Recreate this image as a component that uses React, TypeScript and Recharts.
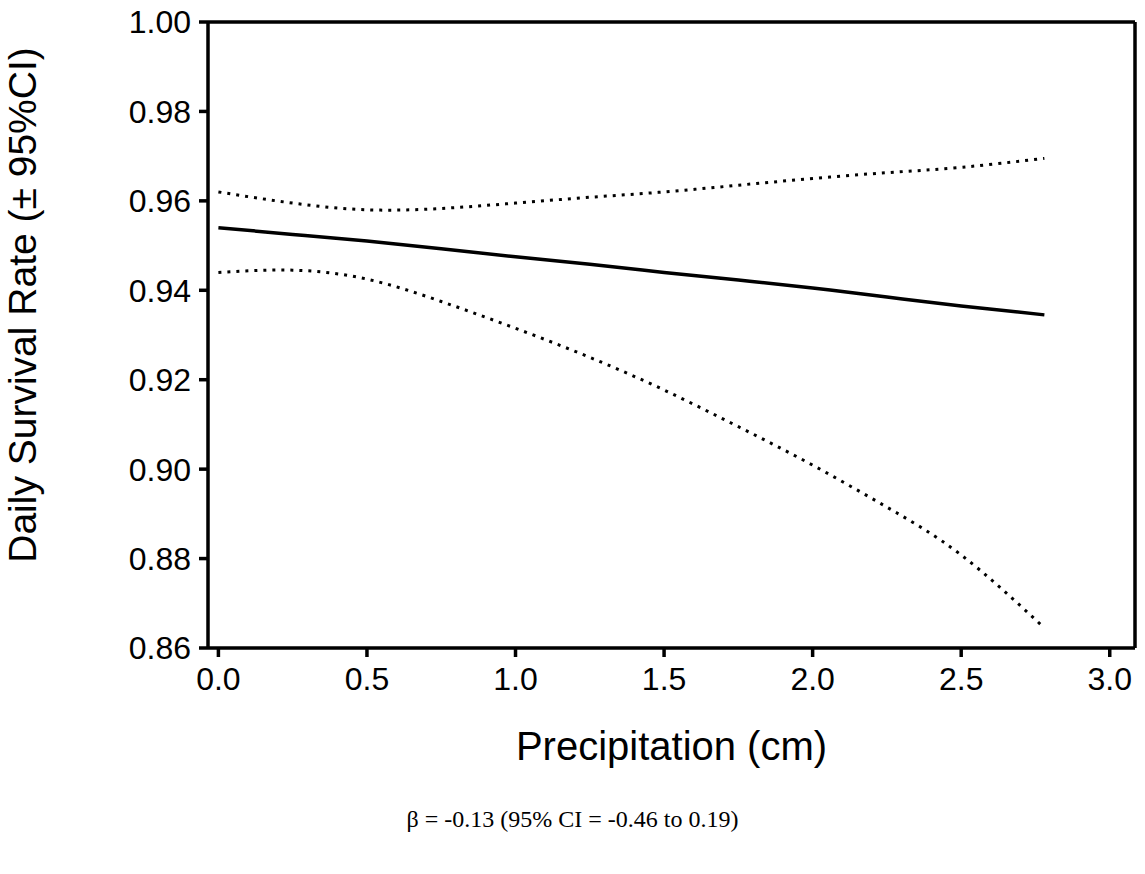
import { LineChart, Line, XAxis, YAxis, ReferenceLine } from 'recharts'

const precip = [0, 0.25, 0.5, 0.75, 1.0, 1.25, 1.5, 1.75, 2.0, 2.25, 2.5, 2.78]
const fit = [0.954, 0.9525, 0.951, 0.9493, 0.9475, 0.9458, 0.944, 0.9423, 0.9405, 0.9385, 0.9365, 0.9345]
const upper = [0.962, 0.9595, 0.958, 0.9583, 0.9595, 0.9608, 0.962, 0.9635, 0.965, 0.9663, 0.9675, 0.9695]
const lower = [0.944, 0.9445, 0.9425, 0.9375, 0.9315, 0.925, 0.9177, 0.9095, 0.9009, 0.8915, 0.8808, 0.8645]

const xTicks = [0, 0.5, 1.0, 1.5, 2.0, 2.5, 3.0]
const yTicks = [0.86, 0.88, 0.9, 0.92, 0.94, 0.96, 0.98, 1.0]

const data = precip.map((x, i) => ({ x, fit: fit[i], hi: upper[i], lo: lower[i] }))

const font = 'Liberation Sans, Arial, sans-serif'
const tickStyle = { fontSize: 32, fill: '#000', fontFamily: font }

export default function App() {
  return (
    <div style={{ position: 'absolute', left: 0, top: 0, width: 1145, height: 874, background: '#fff' }}>
      <LineChart width={1145} height={780} data={data} margin={{ top: 22, right: 10, bottom: 0, left: 0 }}>
        <XAxis
          dataKey="x"
          type="number"
          domain={[-0.035, 3.085]}
          ticks={xTicks}
          tickFormatter={(v) => v.toFixed(1)}
          tick={tickStyle}
          stroke="#000"
          strokeWidth={3.5}
          tickSize={9}
          tickMargin={10}
          height={132}
          label={{ value: 'Precipitation (cm)', position: 'insideBottom', offset: 20, style: { fontSize: 40, fill: '#000', fontFamily: font } }}
        />
        <YAxis
          type="number"
          domain={[0.86, 1.0]}
          ticks={yTicks}
          tickFormatter={(v) => v.toFixed(2)}
          tick={tickStyle}
          stroke="#000"
          strokeWidth={3.5}
          tickSize={9}
          tickMargin={8}
          width={208}
          label={{ value: 'Daily Survival Rate (± 95%CI)', angle: -90, position: 'insideLeft', offset: 0, dx: 22, dy: -30, style: { fontSize: 39, fill: '#000', fontFamily: font, textAnchor: 'middle' } }}
        />
        <ReferenceLine y={1.0} stroke="#000" strokeWidth={3.5} ifOverflow="visible" />
        <ReferenceLine x={3.085} stroke="#000" strokeWidth={3.5} ifOverflow="visible" />
        <Line dataKey="fit" type="natural" stroke="#000" strokeWidth={3.5} dot={false} isAnimationActive={false} />
        <Line dataKey="hi" type="natural" stroke="#000" strokeWidth={3} strokeDasharray="3 6" dot={false} isAnimationActive={false} />
        <Line dataKey="lo" type="natural" stroke="#000" strokeWidth={3} strokeDasharray="3 6" dot={false} isAnimationActive={false} />
      </LineChart>
      <div style={{ position: 'absolute', top: 806, left: 0, width: 1145, textAlign: 'center', fontFamily: 'Liberation Serif, Times New Roman, serif', fontSize: 24 }}>
        β = -0.13 (95% CI = -0.46 to 0.19)
      </div>
    </div>
  )
}
